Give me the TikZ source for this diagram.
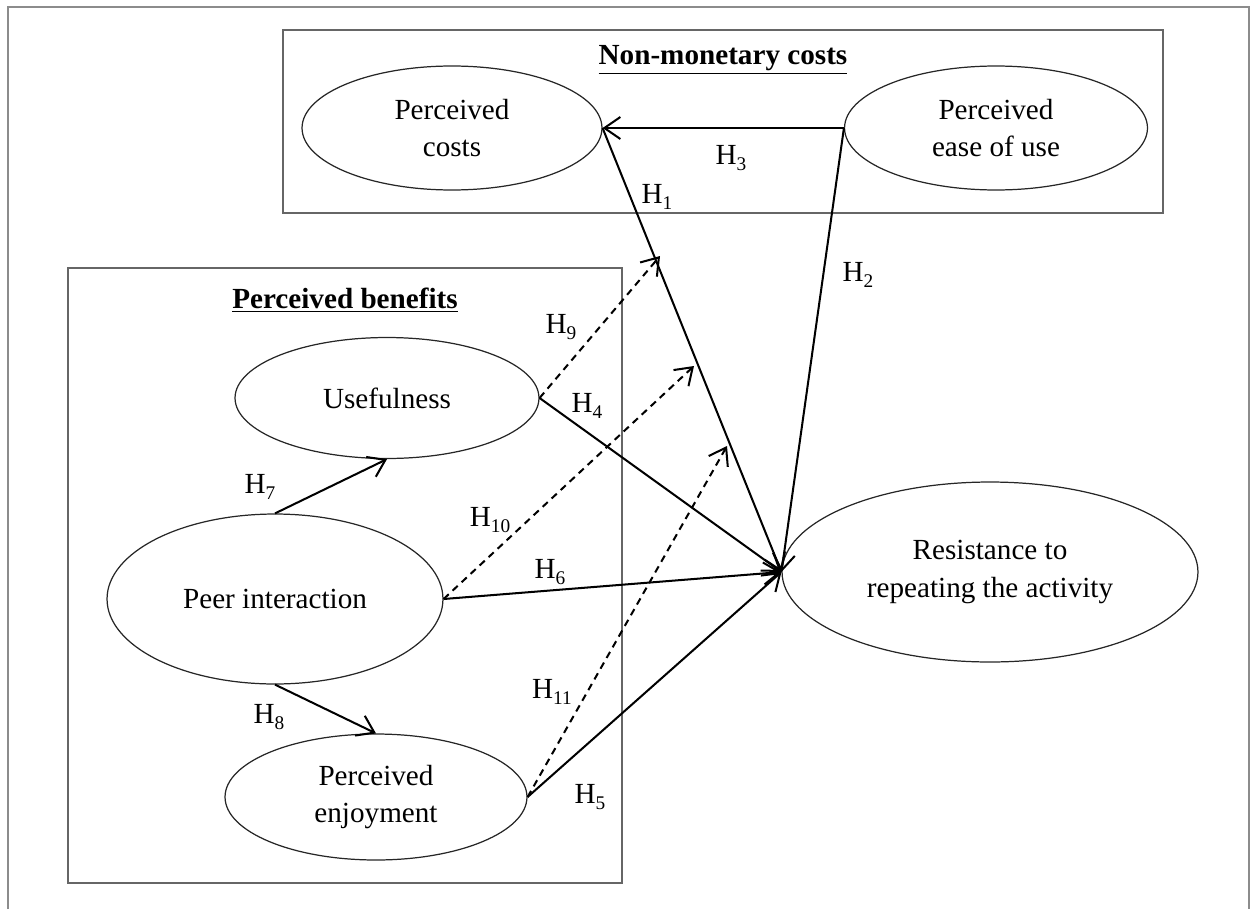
\documentclass[tikz,border=0pt]{standalone}
\usepackage{fontspec}
\setmainfont{Liberation Serif}
\usetikzlibrary{shapes.geometric,arrows.meta}
\newcommand{\Hs}[1]{H\raisebox{-0.4ex}{\fontsize{11}{11}\selectfont #1}}
\begin{document}
\begin{tikzpicture}[x=0.02cm,y=-0.02cm,
  every node/.style={font=\fontsize{16.6}{21.5}\selectfont},
  oval/.style={ellipse,draw=black!85,line width=0.7pt,inner sep=0pt,align=center},
  frame/.style={draw=black!60,line width=1.2pt},
  rel/.style={line width=1.15pt,-{Straight Barb[length=3.2mm,width=4.4mm]}},
  mod/.style={rel,dash pattern=on 4pt off 3pt},
  lab/.style={inner sep=0pt}]
\useasboundingbox (0,0) rectangle (1256,909);
\draw[draw=black!45,line width=1.2pt] (8,909) -- (8,7) -- (1249,7) -- (1249,909);
\draw[frame] (283,30) rectangle (1163,213);
\draw[frame] (68,268) rectangle (622,883);
\node[font=\fontsize{16.6}{21.5}\selectfont\bfseries] (t1) at (723,60) {\underline{Non-monetary costs}};
\node[font=\fontsize{16.6}{21.5}\selectfont\bfseries] (t2) at (345,300) {\underline{Perceived benefits}};
\node[oval,minimum width=6cm,minimum height=2.48cm] (pc) at (452,128) {Perceived\\costs};
\node[oval,minimum width=6.06cm,minimum height=2.48cm] (pe) at (996,128) {Perceived\\ease of use};
\node[oval,minimum width=6.08cm,minimum height=2.42cm] (use) at (387,398) {Usefulness};
\node[oval,minimum width=6.72cm,minimum height=3.4cm] (peer) at (275,599) {Peer interaction};
\node[oval,minimum width=6.04cm,minimum height=2.52cm] (enj) at (376,797) {Perceived\\enjoyment};
\node[oval,minimum width=8.32cm,minimum height=3.6cm] (res) at (990,572) {Resistance to\\repeating the activity};
\coordinate (m9) at (660,256);
\coordinate (m10) at (694,366);
\coordinate (m11) at (727,446);
\draw[rel] (pe.west) -- (pc.east);
\draw[rel] (pc.east) -- (res.west);
\draw[rel] (pe.west) -- (res.west);
\draw[rel] (use.east) -- (res.west);
\draw[rel] (peer.east) -- (res.west);
\draw[rel] (enj.east) -- (res.west);
\draw[rel] (peer.north) -- (use.south);
\draw[rel] (peer.south) -- (enj.north);
\draw[mod] (use.east) -- (m9);
\draw[mod] (peer.east) -- (m10);
\draw[mod] (enj.east) -- (m11);
\node[lab] (h3) at (731,158) {\Hs{3}};
\node[lab] (h1) at (657,197) {\Hs{1}};
\node[lab] (h2) at (858,275) {\Hs{2}};
\node[lab] (h9) at (561,327) {\Hs{9}};
\node[lab] (h4) at (587,406) {\Hs{4}};
\node[lab] (h10) at (490,520) {\Hs{10}};
\node[lab] (h6) at (550,572) {\Hs{6}};
\node[lab] (h11) at (552,692) {\Hs{11}};
\node[lab] (h5) at (590,797) {\Hs{5}};
\node[lab] (h7) at (260,487) {\Hs{7}};
\node[lab] (h8) at (269,717) {\Hs{8}};
\end{tikzpicture}
\end{document}
